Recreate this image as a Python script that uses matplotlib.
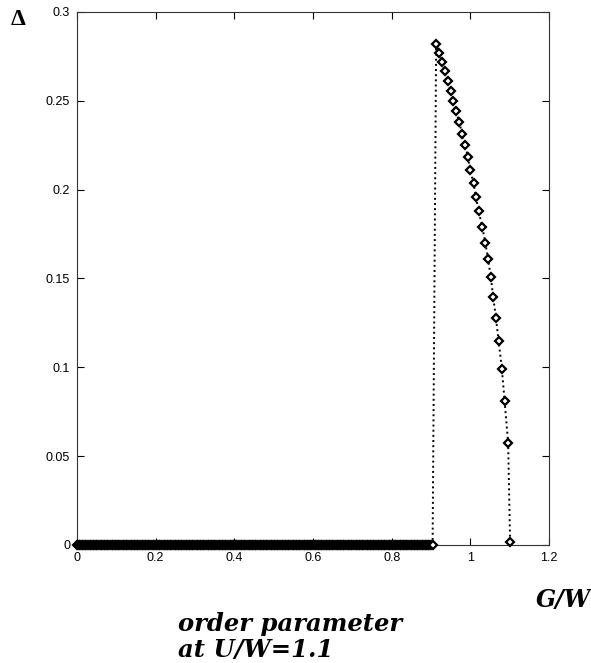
import numpy as np
import matplotlib
matplotlib.use("Agg")
import matplotlib.pyplot as plt

# zero branch: sampled G/W grid where the order parameter vanishes
g_zero_start, g_zero_stop, g_zero_step = 0.0, 0.905, 0.004
g_zero = np.arange(g_zero_start, g_zero_stop + 1e-9, g_zero_step)
delta_zero = np.zeros_like(g_zero)

# ordered branch
g_ord = [0.913, 0.921, 0.928, 0.935, 0.943, 0.950, 0.955, 0.964, 0.972,
         0.979, 0.986, 0.994, 0.999, 1.008, 1.014, 1.021, 1.030, 1.038,
         1.045, 1.052, 1.058, 1.065, 1.072, 1.080, 1.087, 1.096, 1.101]
delta_ord = [0.282, 0.277, 0.2716, 0.2665, 0.261, 0.2556, 0.2496, 0.244,
             0.2378, 0.2314, 0.225, 0.2186, 0.211, 0.204, 0.1958, 0.1879,
             0.1792, 0.1702, 0.1609, 0.1507, 0.1398, 0.1278, 0.1147, 0.0993,
             0.0813, 0.0576, 0.0017]

x_ticks = [0, 0.2, 0.4, 0.6, 0.8, 1, 1.2]
x_ticklabels = ["0", "0.2", "0.4", "0.6", "0.8", "1", "1.2"]
y_ticks = [0, 0.05, 0.1, 0.15, 0.2, 0.25, 0.3]
y_ticklabels = ["0", "0.05", "0.1", "0.15", "0.2", "0.25", "0.3"]

g_all = np.concatenate([g_zero, g_ord])
delta_all = np.concatenate([delta_zero, delta_ord])

fig = plt.figure(figsize=(5.91, 6.63), dpi=100)
ax = fig.add_axes([0.1303, 0.178, 0.7987, 0.804])

ax.plot(g_all, delta_all, linestyle=":", color="black", linewidth=1.4,
        marker="D", markersize=4.5, markerfacecolor="white",
        markeredgecolor="black", markeredgewidth=1.6, clip_on=False,
        zorder=3)

ax.set_xlim(0, 1.2)
ax.set_ylim(0, 0.3)
ax.set_xticks(x_ticks)
ax.set_xticklabels(x_ticklabels)
ax.set_yticks(y_ticks)
ax.set_yticklabels(y_ticklabels)
ax.tick_params(direction="in", length=5, width=0.8, top=True, right=True,
               labelsize=9, pad=5)
for lab in ax.get_xticklabels() + ax.get_yticklabels():
    lab.set_family("Liberation Sans")
for s in ax.spines.values():
    s.set_linewidth(0.8)
    s.set_color("#333333")

fig.text(0.030, 0.971, "\u0394", fontsize=17, fontweight="bold",
         family="Liberation Serif", ha="center", va="center")
fig.text(1.0, 0.095, "G/W", fontsize=17, fontweight="bold", style="italic",
         family="DejaVu Serif", ha="right", va="center")
fig.text(0.302, 0.002, "order parameter\nat U/W=1.1", fontsize=17.5,
         fontweight="bold", style="italic", family="DejaVu Serif",
         ha="left", va="bottom", linespacing=1.1)

fig.savefig("out.png", dpi=100)
